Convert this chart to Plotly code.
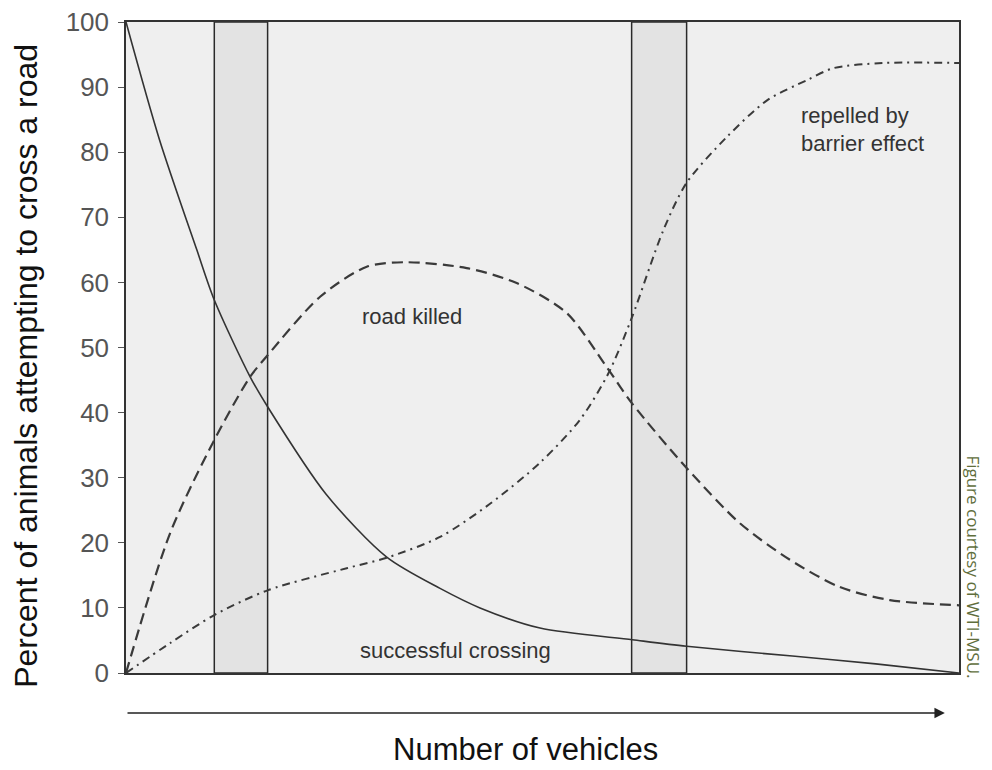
import plotly.graph_objects as go

# ---- data ----
success_x = [0, 4, 8.5, 10.6, 14.9, 17.0, 24, 31.3, 37.7, 42.5, 49.7, 60.8, 67.3, 80, 90, 100]
success_y = [100, 82, 65, 57.3, 45.5, 40.9, 27.5, 17.8, 13, 10, 6.9, 5.1, 4.1, 2.6, 1.4, 0]

killed_x = [0, 5.3, 10.6, 14.9, 17.0, 23.3, 28.9, 33.5, 40.9, 46.9, 52.9, 57.7, 60.7, 67.3, 73.7, 79.7, 85.7, 91.7, 100]
killed_y = [0, 21.5, 35.8, 45.5, 48.8, 57.8, 62.4, 63.1, 62.2, 59.9, 55.3, 47, 41.5, 31.5, 23, 17.4, 13.2, 11.2, 10.4]

repelled_x = [0, 5.3, 10.6, 17.0, 26.5, 31.3, 37.7, 43.7, 49.7, 54.5, 57.9, 60.7, 64.5, 67.3, 72.1, 77.0, 81.8, 84.9, 90.9, 100]
repelled_y = [0, 4.6, 8.9, 12.7, 16.1, 17.7, 20.9, 26, 32.3, 38.9, 46, 54.5, 68, 75.3, 82.3, 88, 91.1, 92.9, 93.7, 93.7]

band_starts = [10.6, 60.7]
band_ends = [17.0, 67.3]

y_ticks = [0, 10, 20, 30, 40, 50, 60, 70, 80, 90, 100]

FONT = "Liberation Sans, Arial, sans-serif"
LINE = "#333333"

fig = go.Figure()

# shaded bands
for s, e in zip(band_starts, band_ends):
    fig.add_shape(type="rect", xref="x", yref="y", x0=s, x1=e, y0=0, y1=100,
                  fillcolor="#e3e3e3", line=dict(color="#2a2a2a", width=1.5), layer="below")

fig.add_trace(go.Scatter(x=success_x, y=success_y, mode="lines",
                         line=dict(color=LINE, width=1.6, shape="spline", smoothing=0.8),
                         showlegend=False, hoverinfo="skip"))
fig.add_trace(go.Scatter(x=killed_x, y=killed_y, mode="lines",
                         line=dict(color="#3a3a3a", width=2.2, dash="11px,6px", shape="spline", smoothing=0.8),
                         showlegend=False, hoverinfo="skip"))
fig.add_trace(go.Scatter(x=repelled_x, y=repelled_y, mode="lines",
                         line=dict(color="#3a3a3a", width=2.0, dash="8px,5px,2px,5px", shape="spline", smoothing=0.8),
                         showlegend=False, hoverinfo="skip"))

# in-plot labels
lab_font = dict(family=FONT, size=22, color="#333333")
fig.add_annotation(x=34.3, y=54.8, xref="x", yref="y", text="road killed", showarrow=False,
                   font=lab_font, xanchor="center", yanchor="middle")
fig.add_annotation(x=39.5, y=3.5, xref="x", yref="y", text="successful crossing", showarrow=False,
                   font=lab_font, xanchor="center", yanchor="middle")
fig.add_annotation(x=80.8, y=85.7, xref="x", yref="y", text="repelled by", showarrow=False,
                   font=lab_font, xanchor="left", yanchor="middle")
fig.add_annotation(x=80.8, y=81.4, xref="x", yref="y", text="barrier effect", showarrow=False,
                   font=lab_font, xanchor="left", yanchor="middle")

# arrow under the x axis
fig.add_annotation(x=0.983, y=-0.0614, xref="x domain", yref="y domain",
                   ax=0.0, ay=-0.0614, axref="x domain", ayref="y domain",
                   text="", showarrow=True, arrowhead=2, arrowsize=1.3,
                   arrowwidth=1.6, arrowcolor="#222222")

# axis titles
fig.add_annotation(x=0.479, y=-0.1475, xref="paper", yref="paper", text="Number of vehicles",
                   showarrow=False, font=dict(family=FONT, size=31, color="#111111"),
                   xanchor="center", yanchor="bottom")
fig.add_annotation(x=-0.12, y=0.472, xref="paper", yref="paper",
                   text="Percent of animals attempting to cross a road", textangle=-90,
                   showarrow=False, font=dict(family=FONT, size=32, color="#111111"),
                   xanchor="center", yanchor="middle")

# credit
fig.add_annotation(x=1.0174, y=0.163, xref="paper", yref="paper",
                   text="Figure courtesy of WTI-MSU.", textangle=90, showarrow=False,
                   font=dict(family="Open Sans, sans-serif", size=17, color="#5f6e3c"),
                   xanchor="center", yanchor="middle")

fig.update_layout(
    width=992, height=770,
    margin=dict(l=126, r=33, t=22, b=97, pad=0, autoexpand=False),
    paper_bgcolor="white",
    plot_bgcolor="#efefef",
    font=dict(family=FONT),
    xaxis=dict(range=[0, 100], showgrid=False, zeroline=False, showticklabels=False,
               ticks="", showline=True, linecolor="#333333", linewidth=1.5, mirror=True,
               automargin=False),
    yaxis=dict(range=[0, 100], tickvals=y_ticks, ticktext=[str(v) for v in y_ticks],
               showgrid=False, zeroline=False, ticks="outside", ticklen=6, tickcolor="#555555",
               tickwidth=1.2, ticklabelstandoff=4, ticklabeloverflow="allow",
               tickfont=dict(family=FONT, size=26, color="#555555"),
               showline=True, linecolor="#333333", linewidth=1.5, mirror=True,
               automargin=False),
)

# remove the default 8px page margin so the 992x770 figure fills the window exactly
fig.write_html("out.html", config={"displayModeBar": False},
               post_script="document.body.style.margin='0';")
